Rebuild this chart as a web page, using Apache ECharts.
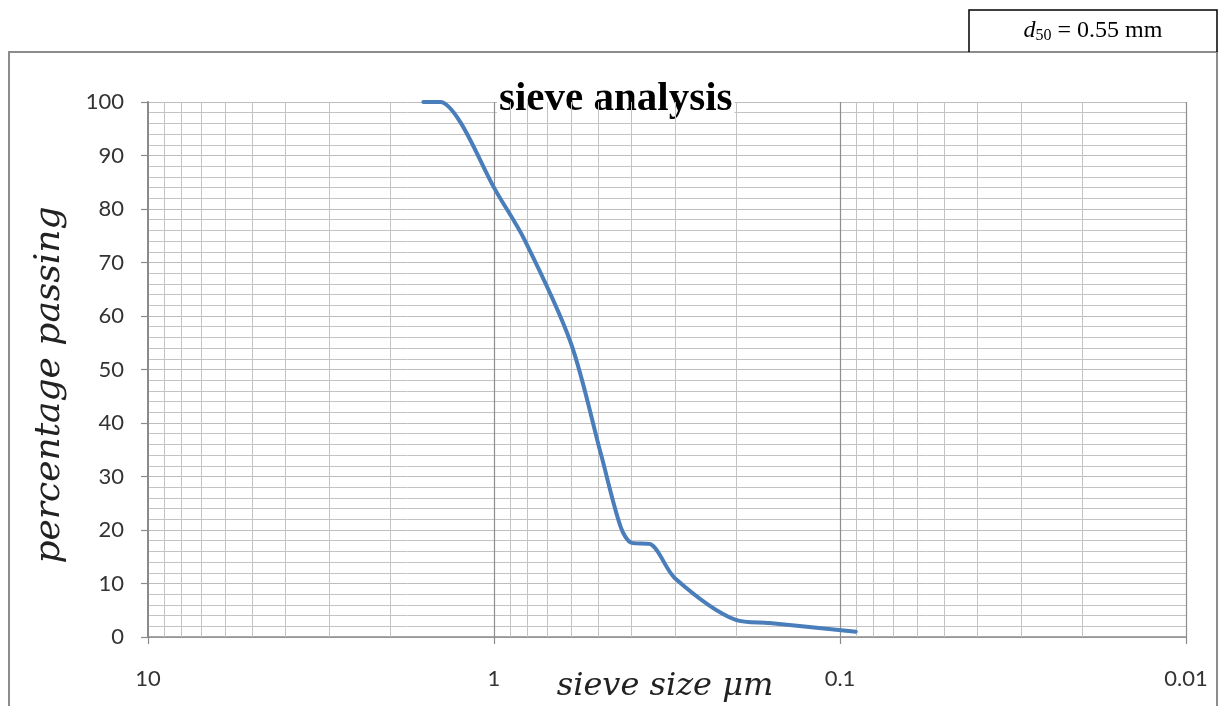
<!DOCTYPE html>
<html>
<head>
<meta charset="utf-8">
<title>sieve analysis</title>
<script src="https://cdn.jsdelivr.net/npm/echarts@6/dist/echarts.min.js"></script>
<style>
  html, body { margin: 0; padding: 0; background: #fff; }
  #chart { width: 1224px; height: 706px; }
</style>
</head>
<body>
<div id="chart"></div>
<script>
// Grain size distribution: sieve size (log scale, decreasing) vs. percentage passing
const sieveSizes = [1.6, 1.43, 1.25, 1.0, 0.82, 0.6, 0.49, 0.43, 0.4, 0.355, 0.3, 0.2, 0.16, 0.09];
const percentPassing = [100, 100, 96.2, 84, 74.5, 55, 34, 20.5, 17.6, 17.4, 11, 3.2, 2.6, 1];

// Log axis range and decade labels
const xMin = 0.01;
const xMax = 10;
const decadeValues = [10, 1, 0.1, 0.01];
const minorMultipliers = [2, 3, 4, 5, 6, 7, 8, 9];

const d50Text = '0.55 mm';

// vertical log grid: minor lines at 2..9 of every decade, darker at decades
const gridLines = [];
[1, 0.1, 0.01].forEach(function (dec) {
  minorMultipliers.forEach(function (m) {
    gridLines.push({ xAxis: +(m * dec).toPrecision(3), lineStyle: { color: '#c3c3c3', width: 1, type: 'solid' } });
  });
});
decadeValues.slice(1).forEach(function (d) {
  gridLines.push({ xAxis: d, lineStyle: { color: '#8e8e8e', width: 1.2, type: 'solid' } });
});

const chart = echarts.init(document.getElementById('chart'), null, { renderer: 'canvas' });

chart.setOption({
  backgroundColor: '#ffffff',
  animation: false,
  title: {
    text: 'sieve analysis',
    left: 497,
    top: 84,
    z: 1,
    padding: [0, 2, 0, 2],
    backgroundColor: '#ffffff',
    textStyle: {
      fontFamily: '"Liberation Serif", "Times New Roman", serif',
      fontWeight: 'bold',
      fontSize: 41,
      lineHeight: 30,
      color: '#000'
    }
  },
  grid: { left: 148, right: 38, top: 102, bottom: 69, outerBoundsMode: 'none', containLabel: false },
  xAxis: {
    type: 'log',
    logBase: 10,
    min: xMin,
    max: xMax,
    inverse: true,
    name: 'sieve size \u03BCm',
    nameLocation: 'middle',
    nameGap: 34,
    nameMoveOverlap: false,
    nameTextStyle: {
      fontFamily: '"DejaVu Serif", serif',
      fontStyle: 'italic',
      fontSize: 32,
      color: '#222',
      padding: [0, 0, 0, -4]
    },
    axisLine: { show: true, lineStyle: { color: '#8a8a8a', width: 1.5 } },
    axisTick: { show: true, inside: false, length: 7, lineStyle: { color: '#8a8a8a', width: 1.2 } },
    axisLabel: {
      margin: 31,
      fontFamily: 'Lato, "Open Sans", sans-serif',
      fontSize: 22,
      color: '#333',
      formatter: function (v) {
        const s = decadeValues.find(function (d) { return Math.abs(d - v) / d < 1e-6; });
        return s === undefined ? '' : String(s);
      }
    },
    splitLine: { show: false },
    minorTick: { show: false },
    minorSplitLine: { show: false }
  },
  yAxis: {
    type: 'value',
    min: 0,
    max: 100,
    interval: 10,
    name: 'percentage passing',
    nameLocation: 'middle',
    nameGap: 80,
    nameMoveOverlap: false,
    nameTextStyle: {
      fontFamily: '"DejaVu Serif", serif',
      fontStyle: 'italic',
      fontSize: 36,
      color: '#222',
      padding: [0, 31, 0, 0]
    },
    axisLine: { show: true, lineStyle: { color: '#8a8a8a', width: 2 } },
    axisTick: { show: true, inside: false, length: 7, lineStyle: { color: '#8a8a8a', width: 1.2 } },
    axisLabel: {
      margin: 24,
      fontFamily: 'Lato, "Open Sans", sans-serif',
      fontSize: 22,
      color: '#333'
    },
    splitLine: { show: true, lineStyle: { color: '#bdbdbd', width: 1 } },
    minorTick: { show: false, splitNumber: 5 },
    minorSplitLine: { show: true, lineStyle: { color: '#c3c3c3', width: 1 } }
  },
  series: [
    {
      name: 'log grid',
      type: 'line',
      data: [],
      z: 2,
      silent: true,
      markLine: {
        silent: true,
        symbol: ['none', 'none'],
        label: { show: false },
        animation: false,
        data: gridLines
      }
    },
    {
      name: 'percentage passing',
      type: 'line',
      z: 5,
      smooth: 0.3,
      showSymbol: false,
      data: sieveSizes.map(function (s, i) { return [s, percentPassing[i]]; }),
      lineStyle: { color: '#4a7ebb', width: 4, cap: 'round', join: 'round' },
      itemStyle: { color: '#4a7ebb' }
    }
  ],
  graphic: [
    {
      type: 'rect',
      silent: true,
      shape: { x: 9, y: 52, width: 1208, height: 700 },
      style: { fill: 'none', stroke: '#8c8c8c', lineWidth: 2 },
      z: 100
    },
    {
      type: 'polyline',
      silent: true,
      shape: { points: [[969, 52], [969, 10], [1217, 10], [1217, 52]] },
      style: { fill: 'none', stroke: '#000', lineWidth: 1.5 },
      z: 100
    },
    {
      type: 'text',
      silent: true,
      x: 1093,
      y: 31,
      z: 100,
      style: {
        text: '{d|d}{sub|50}{n| = ' + d50Text + '}',
        align: 'center',
        verticalAlign: 'middle',
        rich: {
          d: { fontFamily: '"Liberation Serif", serif', fontStyle: 'italic', fontSize: 24, fill: '#000' },
          sub: { fontFamily: '"Liberation Serif", serif', fontSize: 16, fill: '#000', padding: [10, 0, 0, 0] },
          n: { fontFamily: '"Liberation Serif", serif', fontSize: 24, fill: '#000' }
        }
      }
    }
  ]
});
</script>
</body>
</html>
